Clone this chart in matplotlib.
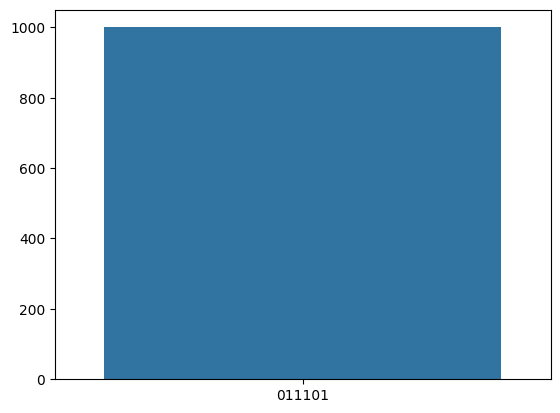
import matplotlib
matplotlib.use("Agg")
import matplotlib.pyplot as plt
import seaborn as sns

categories = ["011101"]
counts = [1000]

fig, ax = plt.subplots(figsize=(6.4, 4.8), dpi=100)
sns.barplot(x=categories, y=counts, ax=ax)
fig.savefig("out.png", dpi=100, bbox_inches="tight")
